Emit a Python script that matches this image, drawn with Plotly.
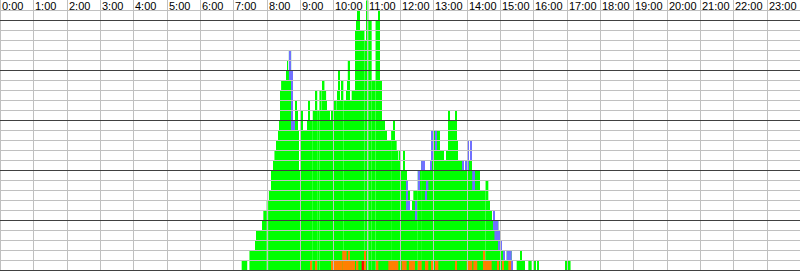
import plotly.graph_objects as go

# ---------------- data (minutes since 0:00) ----------------
hour_labels = ["0:00", "1:00", "2:00", "3:00", "4:00", "5:00", "6:00", "7:00",
               "8:00", "9:00", "10:00", "11:00", "12:00", "13:00", "14:00", "15:00",
               "16:00", "17:00", "18:00", "19:00", "20:00", "21:00", "22:00", "23:00"]

# total stacked count: step function, value holds from start[i] to start[i+1]
total_start = [435, 445, 449, 459, 461, 463, 464, 472, 474, 480, 484, 488, 490, 491, 493, 494,
               498, 501, 503, 504, 506, 515, 517, 518, 520, 524, 526, 527, 531, 533, 535, 536,
               537, 540, 542, 545, 554, 556, 558, 563, 567, 571, 575, 579, 581, 584, 587, 588,
               594, 597, 600, 606, 607, 610, 612, 615, 618, 623, 625, 626, 630, 633, 639, 641,
               643, 644, 646, 648, 656, 660, 663, 669, 676, 681, 684, 687, 693, 696, 704, 708,
               710, 714, 717, 719, 721, 726, 729, 731, 734, 738, 743, 744, 752, 758, 765, 774,
               777, 792, 795, 796, 798, 803, 805, 808, 810, 820, 822, 824, 834, 837, 842, 844,
               846, 849, 864, 874, 879, 882, 885, 888, 890, 897, 900, 903, 909, 912, 921, 923,
               930, 936, 938, 945, 951, 957, 962, 964, 967, 969, 1017, 1027]
total_count = [1, 0, 2, 3, 4, 3, 4, 5, 6, 7, 8, 10, 9, 10, 11, 12,
               13, 14, 15, 18, 19, 20, 21, 20, 22, 20, 17, 15, 17, 15, 16, 14,
               10, 14, 16, 14, 15, 17, 15, 16, 18, 16, 18, 16, 19, 18, 17, 16,
               15, 16, 17, 16, 18, 20, 17, 19, 17, 18, 19, 21, 17, 18, 24, 25,
               26, 24, 26, 24, 23, 27, 25, 19, 25, 26, 19, 15, 14, 13, 14, 15,
               13, 12, 11, 12, 10, 12, 10, 9, 8, 6, 7, 8, 10, 11, 10, 11,
               14, 12, 11, 12, 11, 12, 11, 16, 15, 16, 13, 11, 10, 11, 13, 11,
               13, 10, 8, 9, 7, 6, 5, 6, 5, 4, 3, 2, 1, 2, 1, 0,
               1, 2, 1, 0, 1, 0, 1, 0, 1, 0, 1, 0]

# blue portion: start, end, lower level, upper level
blue_start = [520, 524, 528, 731, 734, 747, 752, 758, 765, 768, 774, 777, 783, 832, 837, 842, 846, 850, 888, 890, 897, 900, 906, 912, 920]
blue_end   = [524, 526, 530, 734, 738, 750, 756, 765, 768, 771, 777, 780, 786, 834, 842, 844, 849, 855, 890, 897, 900, 903, 909, 921, 922]
blue_low   = [19, 14, 14, 6, 6, 5, 8, 10, 7, 8, 10, 11, 12, 10, 10, 10, 11, 8, 4, 3, 2, 2, 1, 1, 0]
blue_high  = [22, 20, 15, 9, 7, 7, 10, 11, 8, 9, 11, 14, 14, 11, 11, 13, 13, 10, 6, 5, 4, 3, 2, 2, 1]

# orange portion (at the bottom): start, end, count
orange_start = [558, 568, 596, 599, 616, 624, 627, 630, 642, 656, 678, 699, 723, 736, 752, 765, 777, 783, 819, 840, 852, 870, 873, 895, 905, 915]
orange_end   = [560, 570, 598, 616, 624, 627, 630, 639, 645, 658, 681, 717, 732, 747, 759, 771, 780, 789, 822, 850, 859, 873, 885, 897, 907, 920]
orange_count = [1, 1, 1, 1, 2, 1, 2, 1, 1, 2, 1, 1, 1, 1, 1, 1, 1, 1, 1, 1, 1, 2, 1, 1, 1, 1]

# red portion (at the bottom)
red_start = [651]
red_end = [655]
red_count = [1]

GREEN, BLUE, ORANGE, RED = "#00ff00", "#7070ff", "#ff8000", "#ff0000"
GRID, GRID_DARK = "#c0c0c0", "#404040"

W, H = 800, 271
X_MAX = 1440          # minutes in a day
Y_LO, Y_HI = -0.05, 27.05   # 10 px per unit, lines land on whole pixel rows


def bar_trace(starts, ends, low, high, color):
    xs, ws, bs, hs = [], [], [], []
    for s, e, lo, hi in zip(starts, ends, low, high):
        if hi <= lo:
            continue
        xs.append((s + e) / 2)
        ws.append(e - s)
        bs.append(lo)
        hs.append(hi - lo)
    return go.Bar(x=xs, y=hs, base=bs, width=ws, marker=dict(color=color, line=dict(width=0)),
                  hoverinfo="skip", showlegend=False)


fig = go.Figure()
fig.add_trace(bar_trace(total_start[:-1], total_start[1:], [0] * (len(total_start) - 1),
                        total_count[:-1], GREEN))
fig.add_trace(bar_trace(blue_start, blue_end, blue_low, blue_high, BLUE))
fig.add_trace(bar_trace(orange_start, orange_end, [0] * len(orange_start), orange_count, ORANGE))
fig.add_trace(bar_trace(red_start, red_end, [0] * len(red_start), red_count, RED))

px_per_min = W / X_MAX
shapes = []
for h in range(24):
    # snap hour line to the centre of a whole pixel column
    xc = (round(h * 60 * px_per_min) + 0.5) / px_per_min
    shapes.append(dict(type="line", xref="x", yref="paper", x0=xc, x1=xc, y0=0, y1=1,
                       line=dict(color=GRID, width=1), layer="above"))
for u in range(27):
    if u % 5 != 0:
        shapes.append(dict(type="line", xref="paper", yref="y", x0=0, x1=1, y0=u, y1=u,
                           line=dict(color=GRID, width=1), layer="above"))
for u in range(0, 27, 5):
    shapes.append(dict(type="line", xref="paper", yref="y", x0=0, x1=1, y0=u, y1=u,
                       line=dict(color=GRID_DARK, width=1), layer="above"))

annotations = []
for h, lab in enumerate(hour_labels):
    annotations.append(dict(x=h * 60, y=1, xref="x", yref="paper", text=lab, showarrow=False,
                            xanchor="left", yanchor="top", xshift=1, yshift=1, borderpad=0,
                            font=dict(family="Liberation Sans, Arial, sans-serif", size=11,
                                      color="#000000")))

fig.update_layout(
    width=W, height=H,
    margin=dict(l=0, r=0, t=0, b=0, pad=0),
    barmode="overlay",
    plot_bgcolor="#ffffff", paper_bgcolor="#ffffff",
    xaxis=dict(range=[0, X_MAX], showgrid=False, zeroline=False, showticklabels=False,
               ticks="", showline=False, fixedrange=True),
    yaxis=dict(range=[Y_LO, Y_HI], showgrid=False, zeroline=False, showticklabels=False,
               ticks="", showline=False, fixedrange=True),
    shapes=shapes,
    annotations=annotations,
    showlegend=False,
)

fig.write_html("out.html", config={"displayModeBar": False})
